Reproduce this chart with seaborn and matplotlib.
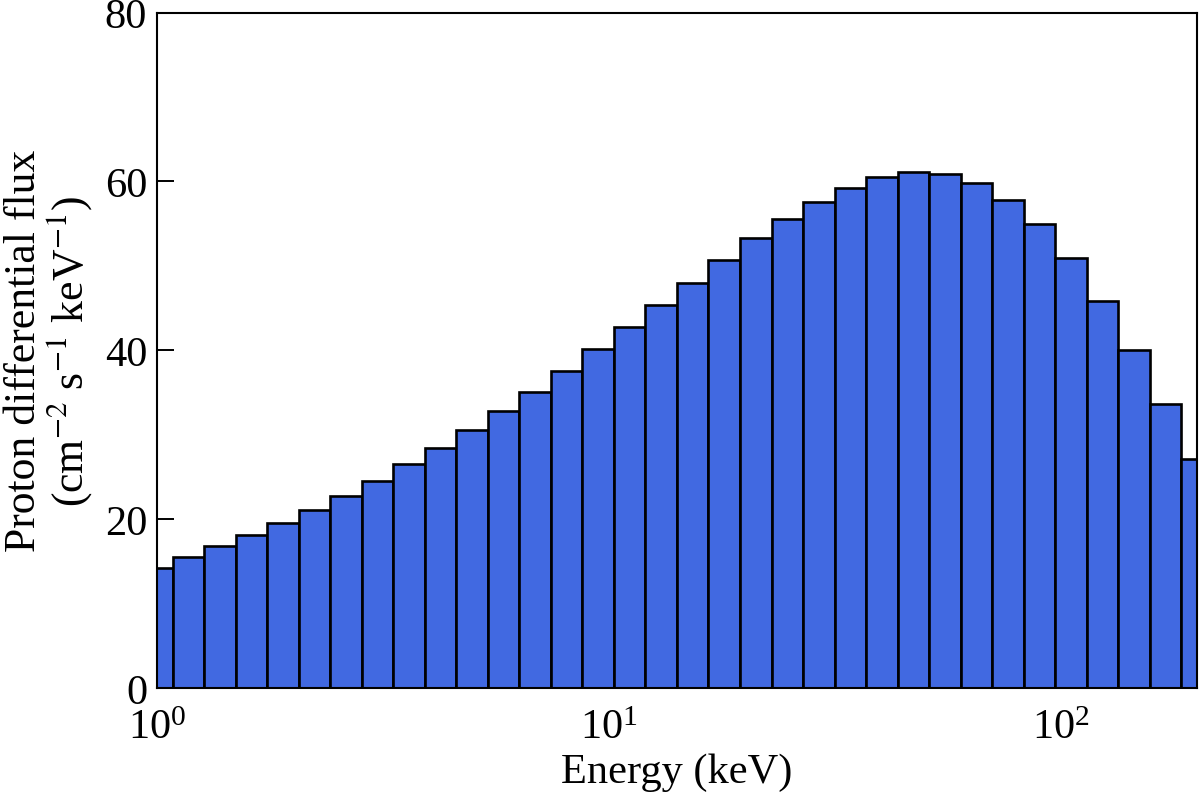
import numpy as np
import pandas as pd
import matplotlib
matplotlib.use('Agg')
import matplotlib.pyplot as plt
import seaborn as sns

# --- Data (bin centres in keV, flux per bin) ---
energy_kev = [1.00, 1.174, 1.379, 1.619, 1.900, 2.232, 2.621, 3.077, 3.613,
              4.242, 4.981, 5.848, 6.867, 8.064, 9.467, 11.12, 13.05, 15.32,
              17.99, 21.13, 24.81, 29.13, 34.20, 40.16, 47.15, 55.36, 65.00,
              76.34, 89.62, 105.2, 123.6, 145.1, 170.3, 200.0]
flux = [14.2, 15.5, 16.8, 18.1, 19.5, 21.1, 22.7, 24.5, 26.5, 28.4, 30.6,
        32.8, 35.1, 37.6, 40.1, 42.7, 45.4, 48.0, 50.7, 53.3, 55.5, 57.5,
        59.2, 60.5, 61.1, 60.9, 59.8, 57.8, 54.9, 50.9, 45.8, 40.0, 33.6,
        27.1]
y_ticks = [0, 20, 40, 60, 80]

# --- Style ---
sns.set_style('ticks', {'axes.edgecolor': 'black', 'text.color': 'black',
                        'axes.labelcolor': 'black', 'xtick.color': 'black',
                        'ytick.color': 'black'})
plt.rcParams['font.family'] = ['Liberation Serif', 'DejaVu Serif']
plt.rcParams['mathtext.fontset'] = 'stix'

df = pd.DataFrame({'energy': energy_kev, 'flux': flux})

# bin edges = geometric midpoints between centres
e = np.array(energy_kev)
mid = np.sqrt(e[:-1] * e[1:])
ratio = np.sqrt(e[1] / e[0])
edges = [e[0] / ratio] + list(mid) + [e[-1] * ratio]

fig = plt.figure(figsize=(12, 8.04), dpi=100)
ax = fig.add_axes([0.1308, 0.143, 0.8667, 0.8402])

sns.histplot(data=df, x='energy', weights='flux', bins=edges, ax=ax,
             color='#4169E1', alpha=1, edgecolor='black', linewidth=1.9)

ax.set_xscale('log')
ax.set_xlim(1, 200)
ax.set_ylim(0, 80)
ax.set_yticks(y_ticks)
ax.minorticks_off()

ax.set_xlabel('Energy (keV)', fontsize=30.5, labelpad=4)
ax.set_ylabel('Proton differential flux\n(cm$^{-2}$ s$^{-1}$ keV$^{-1}$)',
              fontsize=31.5, labelpad=8, linespacing=1.0)

ax.tick_params(axis='both', labelsize=30.5, direction='in', width=1.4)
ax.tick_params(axis='y', length=12, pad=7)
ax.tick_params(axis='x', length=0, pad=15)
for s in ax.spines.values():
    s.set_linewidth(1.5)
    s.set_visible(True)

fig.savefig('out.png', dpi=100)
